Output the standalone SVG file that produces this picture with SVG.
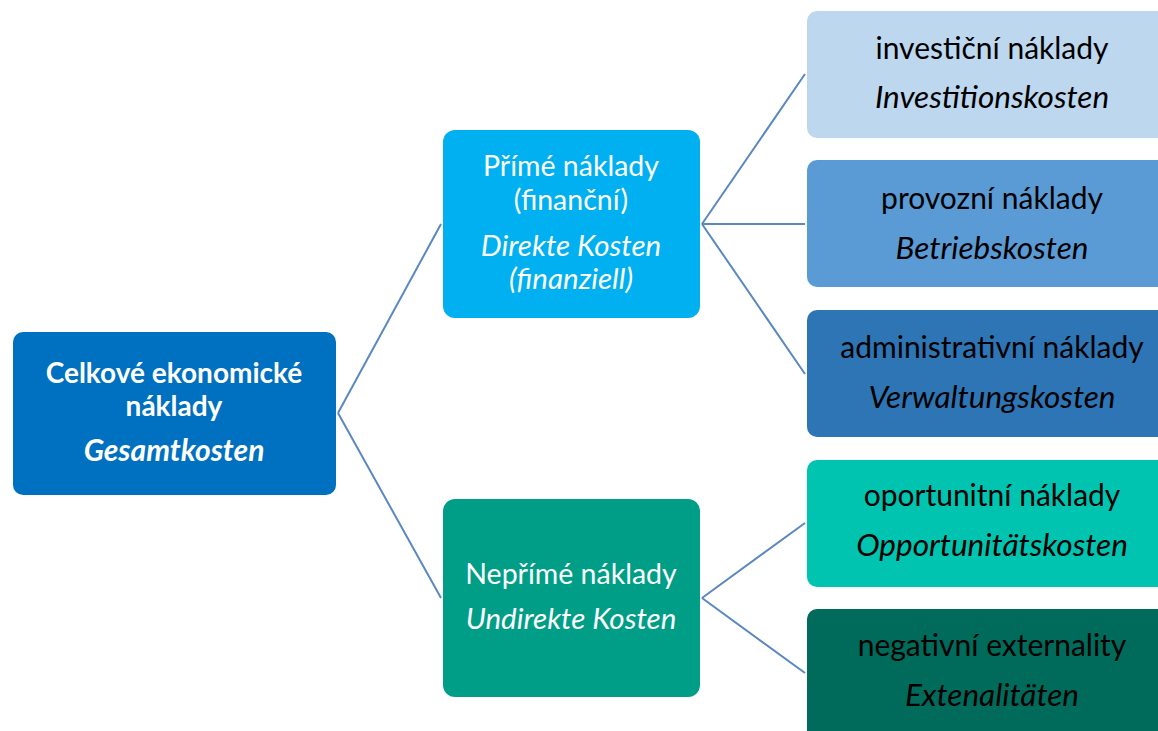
<svg xmlns="http://www.w3.org/2000/svg" width="1158" height="731" viewBox="0 0 1158 731">
<style>
text{font-family:Lato,"Open Sans","Liberation Sans",sans-serif;text-anchor:middle}
.w{fill:#fff}
.b{fill:#000}
.m{font-size:28.5px}
.mi{font-size:29.5px;font-style:italic}
.r{font-size:30px}
.ri{font-size:31.5px;font-style:italic}
.bold{font-weight:bold;font-size:28px}
.bi{font-weight:bold;font-size:30px;font-style:italic}
.c{fill:none;stroke:#5A88C0;stroke-width:2}
</style>
<rect width="1158" height="731" fill="#fff"/>
<g id="connectors">
<path class="c" d="M338,413 L441,224 M338,413 L441,598"/>
<path class="c" d="M702,224 L805,74 M702,224 L805,224 M702,224 L805,374"/>
<path class="c" d="M702,598 L805,523 M702,598 L805,673"/>
</g>
<g id="root">
<rect x="13" y="332" width="323" height="163" rx="10" fill="#0070C0"/>
<text class="w bold" x="174" y="383">Celkové ekonomické</text>
<text class="w bold" x="174" y="416">náklady</text>
<text class="w bi" x="174" y="461">Gesamtkosten</text>
</g>
<g id="direct">
<rect x="443" y="130" width="257" height="188" rx="12" fill="#00B0F0"/>
<text class="w m" x="571" y="176">Přímé náklady</text>
<text class="w m" x="571" y="210">(finanční)</text>
<text class="w mi" x="571" y="256">Direkte Kosten</text>
<text class="w mi" x="571" y="289">(finanziell)</text>
</g>
<g id="indirect">
<rect x="443" y="499" width="257" height="198" rx="12" fill="#009E86"/>
<text class="w m" x="571" y="584">Nepřímé náklady</text>
<text class="w mi" x="571" y="629">Undirekte Kosten</text>
</g>
<g id="invest">
<rect x="807" y="11" width="365" height="127" rx="10" fill="#BDD7EE"/>
<text class="b r" x="992" y="59">investiční náklady</text>
<text class="b ri" x="992" y="108">Investitionskosten</text>
</g>
<g id="provoz">
<rect x="807" y="160" width="365" height="127" rx="10" fill="#5B9BD5"/>
<text class="b r" x="992" y="209">provozní náklady</text>
<text class="b ri" x="992" y="259">Betriebskosten</text>
</g>
<g id="admin">
<rect x="807" y="310" width="365" height="127" rx="10" fill="#2E75B6"/>
<text class="b r" x="992" y="358">administrativní náklady</text>
<text class="b ri" x="992" y="408">Verwaltungskosten</text>
</g>
<g id="oport">
<rect x="807" y="460" width="365" height="127" rx="10" fill="#00C4B0"/>
<text class="b r" x="992" y="506">oportunitní náklady</text>
<text class="b ri" x="992" y="556">Opportunitätskosten</text>
</g>
<g id="extern">
<rect x="807" y="609" width="365" height="140" rx="10" fill="#006B5B"/>
<text class="b r" x="992" y="656">negativní externality</text>
<text class="b ri" x="992" y="706">Extenalitäten</text>
</g>
</svg>
